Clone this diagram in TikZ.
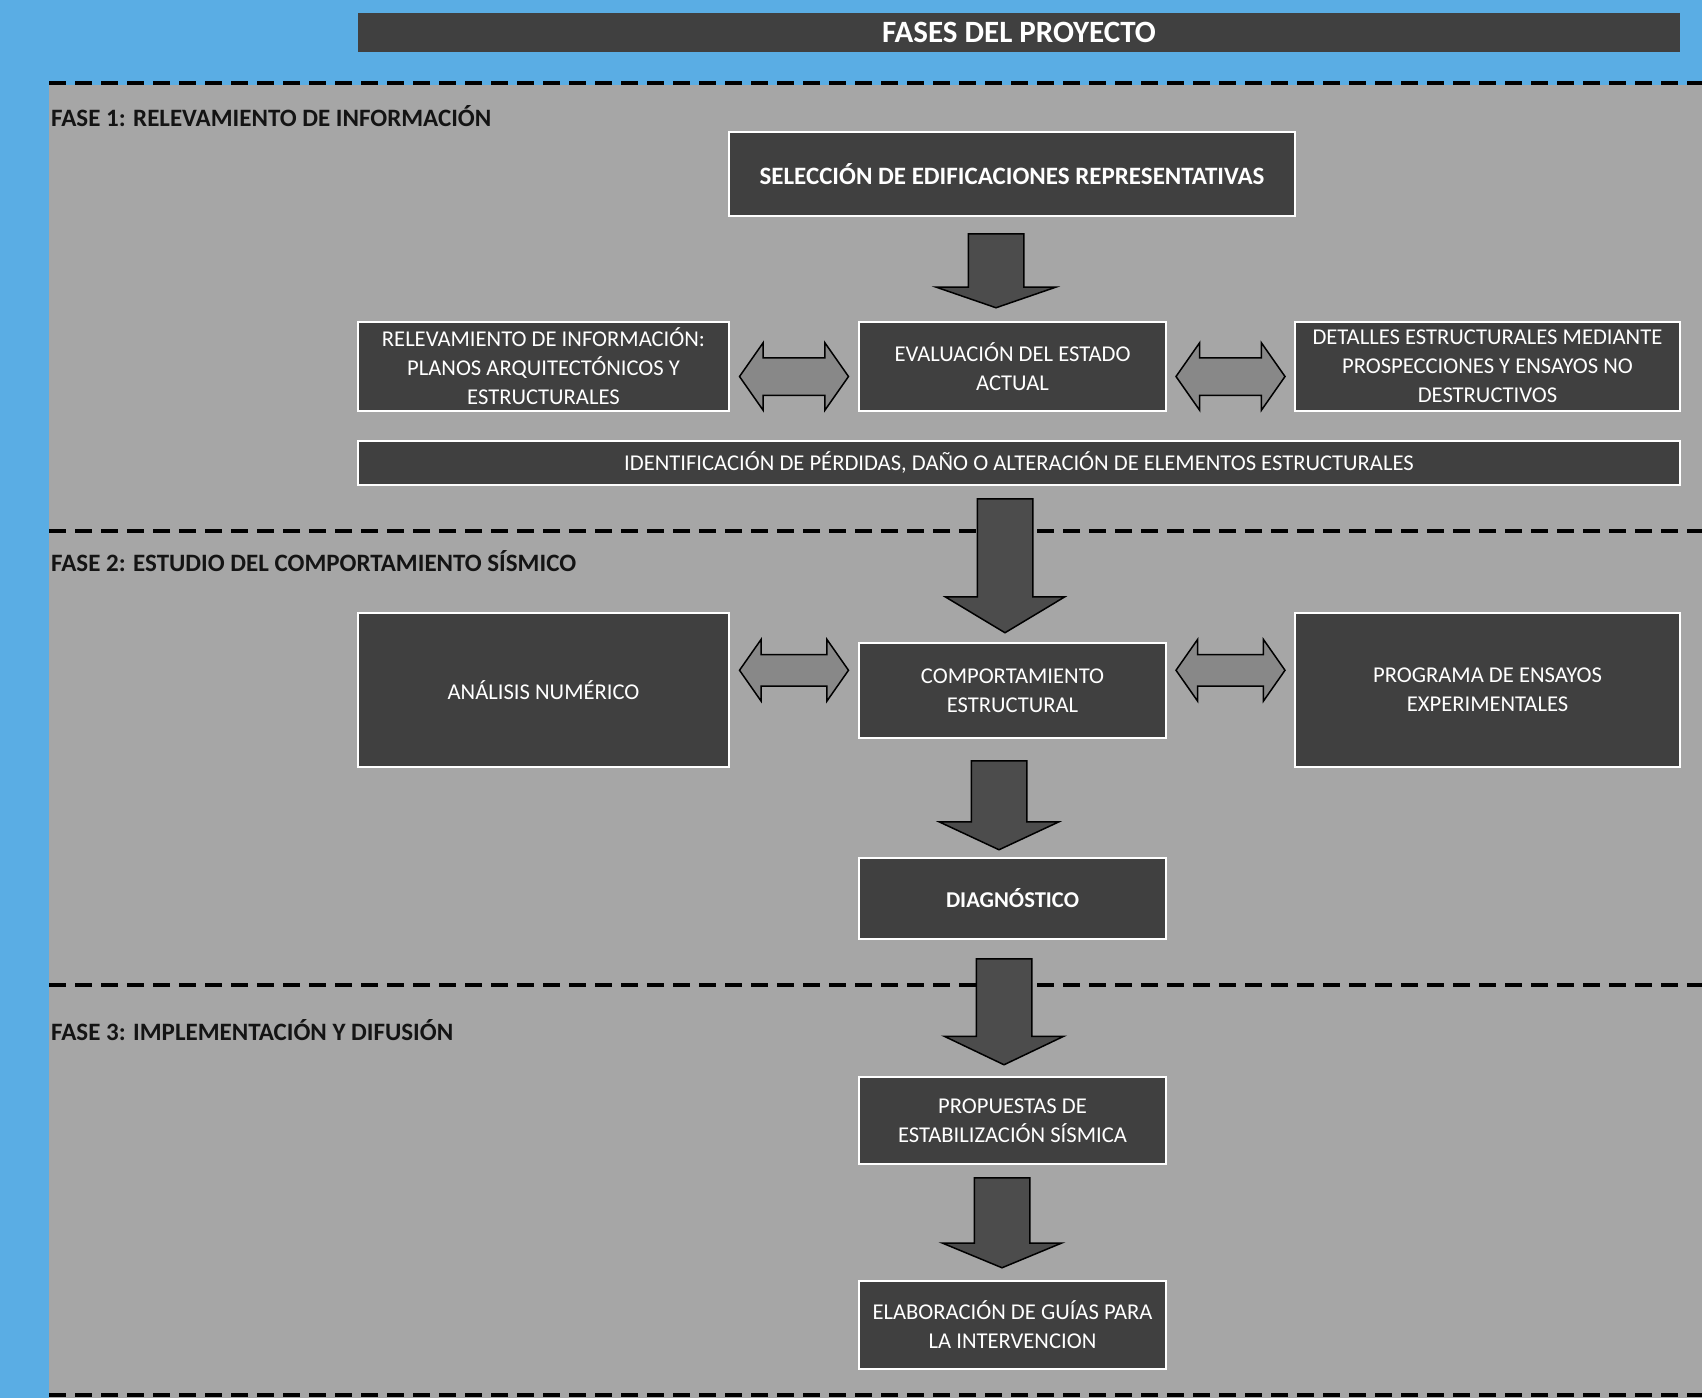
\documentclass[tikz,border=0pt]{standalone}
\usepackage{fontspec}
\setmainfont{Carlito}
\usepackage{tikz}
\usetikzlibrary{shapes, arrows, calc}

\definecolor{skyblue}{RGB}{90,173,228}
\definecolor{panelgray}{RGB}{166,166,166}
\definecolor{boxgray}{RGB}{64,64,64}
\definecolor{arrowgray}{RGB}{76,76,76}
\definecolor{dblgray}{RGB}{136,136,136}
\definecolor{labelblack}{RGB}{20,20,20}

\tikzset{
  stagebox/.style={draw=white, line width=1.5pt, fill=boxgray, text=white, align=center, inner sep=0pt, font=\fontsize{22.6}{29}\selectfont},
  phaselabel/.style={anchor=west, inner sep=0pt, text=labelblack, font=\bfseries\fontsize{25}{30}\selectfont},
  downarrow/.style={single arrow, draw=black, line width=1.5pt, fill=arrowgray, rotate=-90, anchor=tail, inner xsep=0pt, inner ysep=27pt, single arrow head extend=32pt, outer sep=0pt, minimum width=0pt},
  twoway/.style={double arrow, draw=black, line width=1.5pt, fill=dblgray, inner xsep=0pt, inner ysep=18pt, double arrow head extend=15pt, double arrow tip angle=110, outer sep=0pt, minimum width=0pt, minimum height=109pt},
  phaseline/.style={dash pattern=on 17pt off 9pt, line width=4pt, black}
}

\begin{document}
\begin{tikzpicture}[x=1pt,y=1pt,yscale=-1,xscale=1]
\useasboundingbox (0,0) rectangle (1702,1398);

%Background
\fill[skyblue] (0,0) rectangle (1702,1398);
\fill[panelgray] (49,85) rectangle (1702,1398);

%Phase separators
\draw[phaseline] (49,83) -- (1702,83);
\draw[phaseline] (49,531) -- (1702,531);
\draw[phaseline] (49,985) -- (1702,985);
\draw[phaseline] (49,1395) -- (1702,1395);

% Title
\node[fill=boxgray, text=white, minimum width=1322pt, minimum height=39pt, inner sep=0pt, font=\bfseries\fontsize{31}{34}\selectfont] (title) at (1019,32.5) {FASES DEL PROYECTO};

% Phase labels
\node[phaselabel] (fase1) at (51,116) {FASE 1: RELEVAMIENTO DE INFORMACIÓN};
\node[phaselabel] (fase2) at (51,561) {FASE 2: ESTUDIO DEL COMPORTAMIENTO SÍSMICO};
\node[phaselabel] (fase3) at (51,1030) {FASE 3: IMPLEMENTACIÓN Y DIFUSIÓN};

% Fase 1 boxes
\node[stagebox, minimum width=566pt, minimum height=84pt, font=\bfseries\fontsize{25}{29}\selectfont] (sel) at (1012,174) {SELECCIÓN DE EDIFICACIONES REPRESENTATIVAS};
\node[stagebox, minimum width=371pt, minimum height=89pt] (rel) at (543.5,366.5) {RELEVAMIENTO DE INFORMACIÓN:\\PLANOS ARQUITECTÓNICOS Y\\ESTRUCTURALES};
\node[stagebox, minimum width=307pt, minimum height=89pt] (eval) at (1012.5,366.5) {EVALUACIÓN DEL ESTADO\\ACTUAL};
\node[stagebox, minimum width=385pt, minimum height=89pt] (det) at (1487.5,366.5) {DETALLES ESTRUCTURALES MEDIANTE\\PROSPECCIONES Y ENSAYOS NO\\DESTRUCTIVOS};
\node[stagebox, minimum width=1322pt, minimum height=44pt] (ident) at (1019,463) {IDENTIFICACIÓN DE PÉRDIDAS, DAÑO O ALTERACIÓN DE ELEMENTOS ESTRUCTURALES};

% Fase 2 boxes
\node[stagebox, minimum width=371pt, minimum height=154pt] (anal) at (543.5,690) {ANÁLISIS NUMÉRICO};
\node[stagebox, minimum width=307pt, minimum height=95pt] (comp) at (1012.5,690.5) {COMPORTAMIENTO\\ESTRUCTURAL};
\node[stagebox, minimum width=385pt, minimum height=154pt] (prog) at (1487.5,690) {PROGRAMA DE ENSAYOS\\EXPERIMENTALES};
\node[stagebox, minimum width=307pt, minimum height=81pt, font=\bfseries\fontsize{22.6}{29}\selectfont] (diag) at (1012.5,898.5) {DIAGNÓSTICO};

% Fase 3 boxes
\node[stagebox, minimum width=307pt, minimum height=87pt] (prop) at (1012.5,1120.5) {PROPUESTAS DE\\ESTABILIZACIÓN SÍSMICA};
\node[stagebox, minimum width=307pt, minimum height=88pt] (guia) at (1012.5,1325) {ELABORACIÓN DE GUÍAS PARA\\LA INTERVENCION};

% Down arrows
\node[downarrow, minimum height=74pt, single arrow tip angle=142] (a1) at ($(sel.south)+(-16,17)$) {};
\node[downarrow, minimum height=134pt, single arrow tip angle=118] (a2) at ($(ident.south)+(-14,13)$) {};
\node[downarrow, minimum height=89pt, single arrow tip angle=130] (a3) at ($(comp.south)+(-13.5,22)$) {};
\node[downarrow, minimum height=106pt, single arrow tip angle=129] (a4) at ($(diag.south)+(-8.5,19)$) {};
\node[downarrow, minimum height=90pt, single arrow tip angle=135] (a5) at ($(prop.south)+(-10.5,13)$) {};

% Two-way arrows
\node[twoway] (d1) at ($(rel.east)!.5!(eval.west)+(0,10)$) {};
\node[twoway] (d2) at ($(eval.east)!.5!(det.west)+(0,10)$) {};
\node[twoway, inner ysep=15pt] (d3) at ($(anal.east)!.5!(comp.west)+(0,-20)$) {};
\node[twoway, inner ysep=15pt] (d4) at ($(comp.east)!.5!(prog.west)+(0,-20)$) {};

\end{tikzpicture}
\end{document}
